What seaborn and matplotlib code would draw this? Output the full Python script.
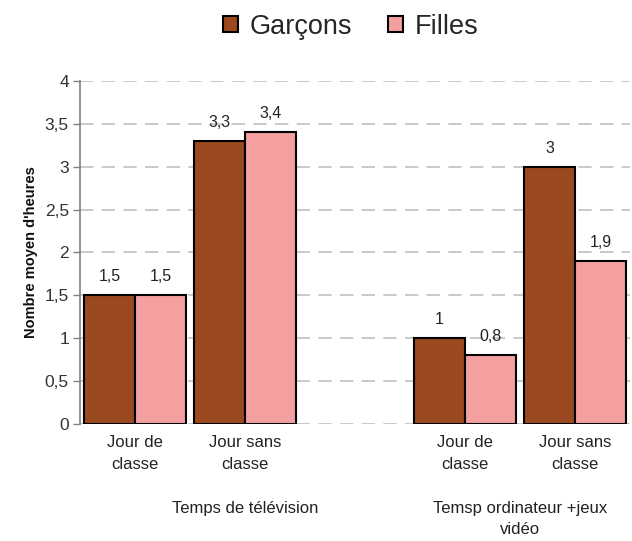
import matplotlib
matplotlib.use("Agg")
import matplotlib.pyplot as plt
from matplotlib.ticker import FuncFormatter
from matplotlib.patches import Patch
import seaborn as sns
import pandas as pd

# Category slots on the x axis (an empty slot separates the two activities)
slots = ["tv_classe", "tv_libre", "vide", "ordi_classe", "ordi_libre"]
slot_labels = ["Jour de\nclasse", "Jour sans\nclasse", "", "Jour de\nclasse", "Jour sans\nclasse"]
groups = ["Temps de télévision", "Temsp ordinateur +jeux\nvidéo"]

data_slots = ["tv_classe", "tv_libre", "ordi_classe", "ordi_libre"]
garcons = [1.5, 3.3, 1.0, 3.0]
filles = [1.5, 3.4, 0.8, 1.9]
series = ["Garçons", "Filles"]
colors = ["#9B491F", "#F4A0A0"]

df = pd.DataFrame({
    "slot": data_slots * 2,
    "heures": garcons + filles,
    "sexe": [series[0]] * len(garcons) + [series[1]] * len(filles),
})

sns.set_theme(style="white")
plt.rcParams["font.family"] = ["Liberation Sans", "DejaVu Sans"]

fig = plt.figure(figsize=(6.32, 5.41), dpi=100)
ax = fig.add_axes([0.1266, 0.2163, 0.8704, 0.634])

sns.barplot(data=df, x="slot", y="heures", hue="sexe", order=slots,
            hue_order=series, palette=colors, saturation=1, width=0.93, dodge=True,
            edgecolor="black", linewidth=1.5, errorbar=None, legend=False, ax=ax)

def virgule(v, pos=None):
    return f"{v:g}".replace(".", ",")

for cont in ax.containers:
    ax.bar_label(cont, fmt=virgule, padding=8, fontsize=11.5, color="#222222")

ax.set_xlim(-0.5, 4.5)
ax.set_ylim(0, 4)
ax.set_yticks([i * 0.5 for i in range(9)])
ax.yaxis.set_major_formatter(FuncFormatter(virgule))
ax.tick_params(axis="y", which="both", left=True, length=5, width=1,
               color="#808080", labelsize=12.5, labelcolor="#333333", pad=3)

ax.set_xticks(range(len(slots)))
ax.set_xticklabels(slot_labels, fontsize=12, color="#222222", linespacing=1.6)
ax.tick_params(axis="x", length=0, pad=8)

ax.set_axisbelow(True)
ax.yaxis.grid(True, color="#c0c0c0", linestyle=(0, (8, 5)), linewidth=1.2)
for s in ["top", "right", "bottom"]:
    ax.spines[s].set_visible(False)
ax.spines["left"].set_color("#808080")
ax.spines["left"].set_linewidth(1.2)

ax.set_xlabel("")
ax.set_ylabel("Nombre moyen d'heures", fontsize=10.5, fontweight="bold",
              color="#111111", labelpad=5)

# Group labels under the category labels
ax.text(1.0, -0.225, groups[0], transform=ax.get_xaxis_transform(),
        ha="center", va="top", fontsize=12, color="#222222")
ax.text(3.5, -0.225, groups[1], transform=ax.get_xaxis_transform(),
        ha="center", va="top", fontsize=12, color="#222222", linespacing=1.45)

handles = [Patch(facecolor=c, edgecolor="black", linewidth=1.5) for c in colors]
fig.legend(handles, series, loc="upper center", bbox_to_anchor=(0.555, 1.02),
           ncol=2, frameon=False, fontsize=19.5, handlelength=0.55, handleheight=0.55,
           handletextpad=0.45, columnspacing=1.3)

fig.savefig("out.png", dpi=100)
